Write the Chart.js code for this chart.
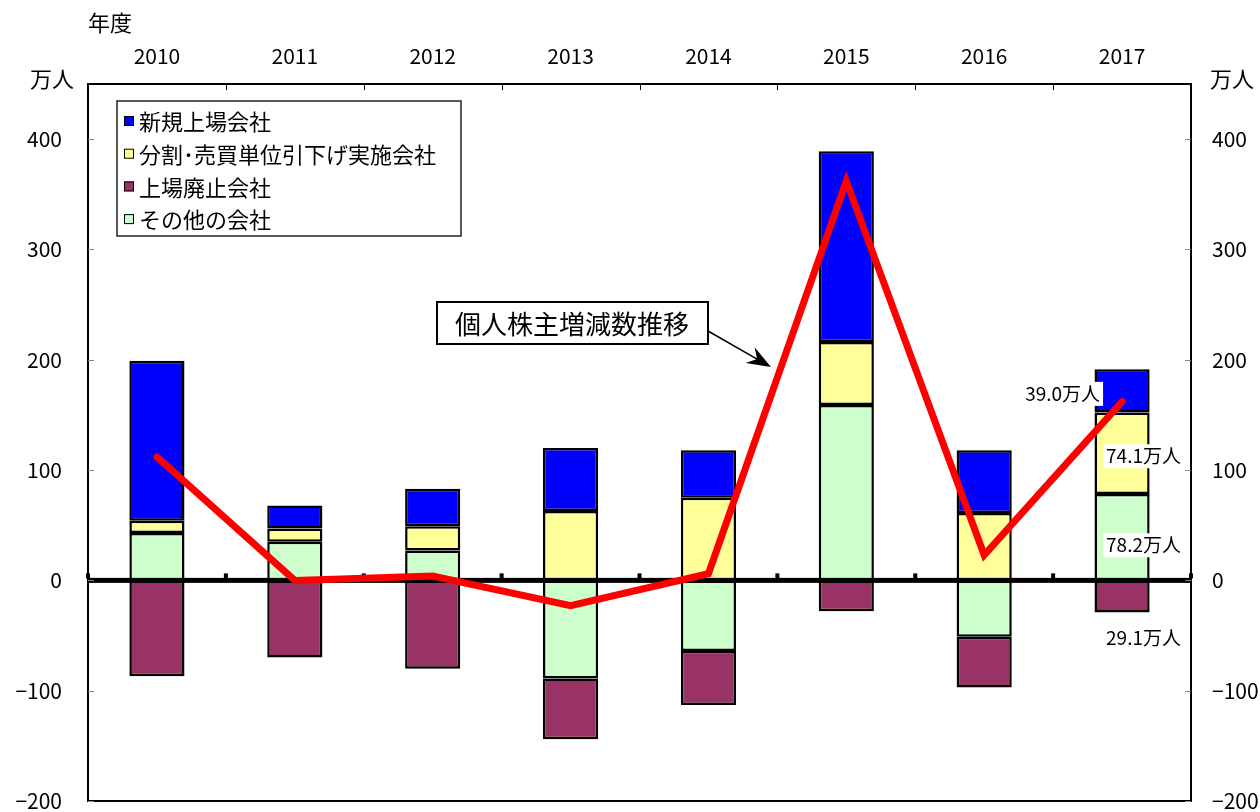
<!DOCTYPE html>
<html>
<head>
<meta charset="utf-8">
<script src="https://cdn.jsdelivr.net/npm/chart.js@4/dist/chart.umd.min.js"></script>
<style>
html, body { margin: 0; padding: 0; background: #fff; }
#wrap { width: 1260px; height: 812px; }
</style>
</head>
<body>
<div id="wrap"><canvas id="barChart"></canvas></div>
<script>
const years = ['2010', '2011', '2012', '2013', '2014', '2015', '2016', '2017'];
const newListed = [145, 21, 34, 57, 43, 173, 57, 39.0];
const splitUnit = [11, 12, 22, 63, 75, 57, 61, 74.1];
const delisted = [-87, -70, -80, -55, -49, -28, -46, -29.1];
const others = [43, 35, 27, -89, -64, 159, -51, 78.2];
const netChange = [112, 0, 4, -23, 6, 362, 23, 162];
const yTicks = [-200, -100, 0, 100, 200, 300, 400];

const FONT = "'Noto Sans CJK JP', 'Noto Sans', sans-serif";

function tickLabel(v) {
    return v < 0 ? '\u2212' + Math.abs(v) : String(v);
}

function setTicks(scale) {
    scale.ticks = yTicks.map(v => ({ value: v }));
}

// keep the plot area fixed, labels may hang over the edge
function fixY(width) {
    return function (s) {
        s.width = width;
        s.paddingTop = 0;
        s.paddingBottom = 0;
    };
}

// draws axes frame, zero line, legend, callout and labels
const decorations = {
    id: 'decorations',
    afterDatasetDraw(chart, args) {
        // zero line goes over the bars but under the red line
        if (args.index !== 0) return;
        const ctx = chart.ctx;
        const a = chart.chartArea;
        const x = chart.scales.x;
        const y0 = chart.scales.y.getPixelForValue(0);
        ctx.save();
        ctx.fillStyle = '#000';
        ctx.fillRect(a.left, y0 - 2.5, a.right - a.left, 5);
        for (let i = 0; i <= years.length; i++) {
            let bx;
            if (i === 0) bx = a.left;
            else if (i === years.length) bx = a.right;
            else bx = (x.getPixelForValue(i - 1) + x.getPixelForValue(i)) / 2;
            ctx.fillRect(bx - 2, y0 - 7, 4, 5);
        }
        ctx.restore();
    },
    afterDraw(chart) {
        const ctx = chart.ctx;
        const a = chart.chartArea;
        const x = chart.scales.x;
        const y = chart.scales.y;
        ctx.save();

        // frame
        ctx.strokeStyle = '#000';
        ctx.lineWidth = 2;
        ctx.strokeRect(a.left, a.top, a.right - a.left, a.bottom - a.top);

        // top category ticks
        ctx.lineWidth = 1;
        for (let i = 1; i < years.length; i++) {
            const bx = Math.round((x.getPixelForValue(i - 1) + x.getPixelForValue(i)) / 2) + 0.5;
            ctx.beginPath();
            ctx.moveTo(bx, a.top);
            ctx.lineTo(bx, a.top + 6);
            ctx.stroke();
        }
        // inner value ticks
        ctx.strokeStyle = '#888';
        yTicks.forEach(v => {
            const py = Math.round(y.getPixelForValue(v)) + 0.5;
            ctx.beginPath();
            ctx.moveTo(a.left, py); ctx.lineTo(a.left + 6, py);
            ctx.moveTo(a.right - 6, py); ctx.lineTo(a.right, py);
            ctx.stroke();
        });

        // axis titles
        ctx.fillStyle = '#000';
        ctx.font = '22px ' + FONT;
        ctx.textBaseline = 'middle';
        ctx.textAlign = 'left';
        ctx.fillText('年度', 88, 23);
        ctx.fillText('万人', 30, 79);
        ctx.fillText('万人', 1210, 79);

        // legend
        ctx.fillStyle = '#fff';
        ctx.fillRect(117, 101, 344, 135);
        ctx.strokeStyle = '#222';
        ctx.lineWidth = 1.5;
        ctx.strokeRect(117, 101, 344, 135);
        const legendIdx = [2, 1, 3, 0];
        legendIdx.forEach((di, k) => {
            const ds = chart.data.datasets[di];
            const cy = 121 + k * 32.7;
            ctx.fillStyle = ds.backgroundColor;
            ctx.fillRect(124, cy - 5, 10, 10);
            ctx.strokeStyle = '#000';
            ctx.lineWidth = 1;
            ctx.strokeRect(124.5, cy - 4.5, 9, 9);
            ctx.fillStyle = '#000';
            ctx.font = '22px ' + FONT;
            ctx.fillText(ds.label, 139, cy + 1);
        });

        // callout for the line
        const lineLabel = chart.data.datasets[4].label;
        ctx.fillStyle = '#fff';
        ctx.fillRect(437, 302, 271, 42);
        ctx.strokeStyle = '#000';
        ctx.lineWidth = 2;
        ctx.strokeRect(437, 302, 271, 42);
        ctx.fillStyle = '#000';
        ctx.font = '26px ' + FONT;
        ctx.textAlign = 'center';
        ctx.fillText(lineLabel, 572, 324);

        const x1 = 708, y1 = 331, x2 = 771, y2 = 367;
        const len = Math.hypot(x2 - x1, y2 - y1);
        const ux = (x2 - x1) / len, uy = (y2 - y1) / len;
        ctx.lineWidth = 1.5;
        ctx.beginPath();
        ctx.moveTo(x1, y1);
        ctx.lineTo(x2 - ux * 14, y2 - uy * 14);
        ctx.stroke();
        ctx.beginPath();
        ctx.moveTo(x2, y2);
        ctx.lineTo(x2 - ux * 24 - uy * 9, y2 - uy * 24 + ux * 9);
        ctx.lineTo(x2 - ux * 16, y2 - uy * 16);
        ctx.lineTo(x2 - ux * 24 + uy * 9, y2 - uy * 24 - ux * 9);
        ctx.closePath();
        ctx.fill();

        // value labels on the last year
        const last = years.length - 1;
        ctx.font = '19px ' + FONT;
        ctx.textAlign = 'left';
        [2, 1, 0, 3].forEach(di => {
            const bar = chart.getDatasetMeta(di).data[last];
            const v = chart.data.datasets[di].data[last];
            const txt = Math.abs(v).toFixed(1) + '万人';
            const w = ctx.measureText(txt).width;
            let tx, ty;
            if (di === 2) { tx = bar.x - 22 - w; ty = (bar.y + bar.base) / 2 + 3; }
            else if (di === 3) { tx = bar.x - 16; ty = bar.y + 25; }
            else { tx = bar.x - 16; ty = (bar.y + bar.base) / 2 + 3 + (di === 0 ? 5 : 0); }
            ctx.fillStyle = '#fff';
            ctx.fillRect(tx - 3, ty - 12, w + 6, 24);
            ctx.fillStyle = '#000';
            ctx.fillText(txt, tx, ty);
        });

        ctx.restore();
    }
};

const barStyle = { borderColor: '#000', borderWidth: 2.5, borderSkipped: false, order: 1,
    categoryPercentage: 1, barPercentage: 0.4 };

const ctx = document.getElementById('barChart').getContext('2d');
const myChart = new Chart(ctx, {
    data: {
        labels: years,
        datasets: [
            Object.assign({ type: 'bar', label: 'その他の会社', data: others, backgroundColor: '#CCFFCC' }, barStyle),
            Object.assign({ type: 'bar', label: '分割･売買単位引下げ実施会社', data: splitUnit, backgroundColor: '#FFFF99' }, barStyle),
            Object.assign({ type: 'bar', label: '新規上場会社', data: newListed, backgroundColor: '#0000FF' }, barStyle),
            Object.assign({ type: 'bar', label: '上場廃止会社', data: delisted, backgroundColor: '#993366' }, barStyle),
            {
                type: 'line',
                label: '個人株主増減数推移',
                data: netChange,
                yAxisID: 'y2',
                borderColor: '#FF0000',
                borderWidth: 7,
                borderCapStyle: 'round',
                pointRadius: 0,
                tension: 0,
                fill: false,
                order: 0
            }
        ]
    },
    options: {
        responsive: true,
        maintainAspectRatio: false,
        animation: false,
        layout: { padding: { top: 0, left: 0, right: 0, bottom: 11 } },
        plugins: {
            legend: { display: false },
            tooltip: { enabled: false }
        },
        scales: {
            x: {
                position: 'top',
                stacked: true,
                grid: { display: false, drawTicks: false },
                border: { display: false },
                ticks: { color: '#000', padding: 15, font: { size: 21, family: FONT } },
                afterFit(s) { s.height = 84; }
            },
            y: {
                position: 'left',
                stacked: true,
                min: -200,
                max: 450,
                afterBuildTicks: setTicks,
                grid: { display: false, drawTicks: false },
                border: { display: false },
                ticks: { color: '#000', padding: 26, callback: tickLabel, font: { size: 21, family: FONT } },
                afterFit: fixY(88)
            },
            y2: {
                position: 'right',
                min: -200,
                max: 450,
                afterBuildTicks: setTicks,
                grid: { display: false, drawTicks: false },
                border: { display: false },
                ticks: { color: '#000', padding: 21, callback: tickLabel, font: { size: 21, family: FONT } },
                afterFit: fixY(69)
            }
        }
    },
    plugins: [decorations]
});
</script>
</body>
</html>
